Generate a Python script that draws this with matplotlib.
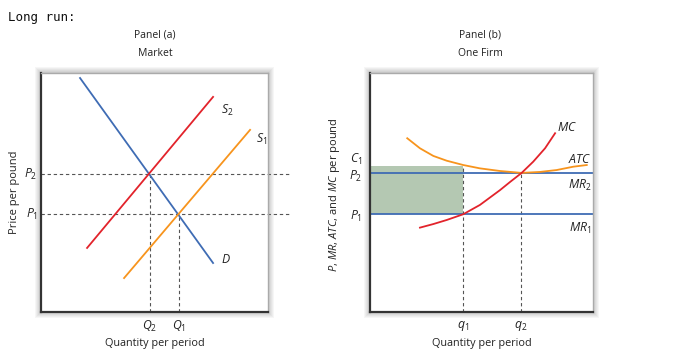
import matplotlib
matplotlib.use("Agg")
import matplotlib.pyplot as plt
from matplotlib.patches import Rectangle

plt.rcParams['font.family'] = ['Open Sans', 'DejaVu Sans']
plt.rcParams['mathtext.fontset'] = 'custom'
plt.rcParams['mathtext.rm'] = 'Open Sans'
plt.rcParams['mathtext.it'] = 'Open Sans:italic'

# 数据 (单位: 坐标轴 0-10)
# Panel (a) 市场
demand_x = [1.72, 7.58]
demand_y = [9.79, 2.05]
s2_x = [2.03, 7.58]
s2_y = [2.68, 9.00]
s1_x = [3.66, 9.21]
s1_y = [1.42, 7.62]
p_market = [5.77, 4.10]        # P2, P1
q_market = [4.80, 6.08]        # Q2, Q1
p_market_labels = ['$P_2$', '$P_1$']
q_market_labels = ['$Q_2$', '$Q_1$']

# Panel (b) 单个企业
mc_x = [2.24, 2.84, 3.44, 4.18, 4.93, 5.83, 6.28, 6.80, 7.32, 7.85, 8.30]
mc_y = [3.53, 3.68, 3.85, 4.09, 4.48, 5.10, 5.44, 5.82, 6.29, 6.85, 7.48]
atc_x = [1.67, 2.24, 2.84, 3.44, 4.18, 4.93, 5.83, 6.80, 7.62, 8.37, 9.12, 9.72]
atc_y = [7.27, 6.85, 6.53, 6.33, 6.15, 6.01, 5.90, 5.82, 5.86, 5.94, 6.08, 6.15]
p_firm = [5.82, 4.10]          # P2, P1
c1 = 6.11
q_firm = [4.17, 6.77]          # q1, q2
q_firm_labels = ['$q_1$', '$q_2$']

BLUE = '#3f6cb4'
RED = '#e2232b'
ORANGE = '#f7941d'
SHADE = '#b4c8b2'
DASH = '#555555'

W, H = 674, 350
fig = plt.figure(figsize=(W / 100, H / 100), dpi=100)


def make_axes(x0, y0, x1, y1):
    # 像素坐标 -> figure 坐标, 带阴影边框
    for k in range(6, 0, -1):
        fig.patches.append(Rectangle(((x0 - k) / W, 1 - (y1 + k) / H),
                                     (x1 - x0 + 2 * k) / W, (y1 - y0 + 2 * k) / H,
                                     transform=fig.transFigure, facecolor='#000000',
                                     alpha=0.035, edgecolor='none', zorder=0))
    ax = fig.add_axes([x0 / W, 1 - y1 / H, (x1 - x0) / W, (y1 - y0) / H], zorder=2)
    ax.set_xlim(0, 10)
    ax.set_ylim(0, 10)
    ax.set_xticks([])
    ax.set_yticks([])
    ax.spines['left'].set_color('#333333')
    ax.spines['bottom'].set_color('#333333')
    ax.spines['left'].set_linewidth(1.6)
    ax.spines['bottom'].set_linewidth(1.6)
    ax.spines['top'].set_color('#aaaaaa')
    ax.spines['right'].set_color('#aaaaaa')
    ax.spines['top'].set_linewidth(1.0)
    ax.spines['right'].set_linewidth(1.0)
    return ax


dash_kw = dict(color=DASH, lw=0.8, ls=(0, (3, 2.5)), zorder=1)
it_kw = dict(fontsize=8.8, color='#222222')

# ---------- Panel (a) ----------
ax1 = make_axes(41, 73, 268, 312)
ax1.plot(demand_x, demand_y, color=BLUE, lw=1.3, zorder=3)
ax1.plot(s2_x, s2_y, color=RED, lw=1.3, zorder=3)
ax1.plot(s1_x, s1_y, color=ORANGE, lw=1.3, zorder=3)
for p, lab in zip(p_market, p_market_labels):
    ax1.plot([0, 10.97], [p, p], clip_on=False, **dash_kw)
    ax1.text(-0.15, p, lab, ha='right', va='center', **it_kw)
for q, p, lab in zip(q_market, p_market, q_market_labels):
    ax1.plot([q, q], [0, p], **dash_kw)
    ax1.text(q, -0.6, lab, ha='center', va='center', **it_kw)
ax1.text(7.95, 8.45, '$S_2$', ha='left', va='center', **it_kw)
ax1.text(9.45, 7.2, '$S_1$', ha='left', va='center', **it_kw)
ax1.text(7.95, 2.2, '$D$', ha='left', va='center', **it_kw)
ax1.text(5.0, -1.32, 'Quantity per period', ha='center', va='center', fontsize=7.8, color='#222222')

fig.text(155 / W, 1 - 35 / H, 'Panel (a)', ha='center', va='center', fontsize=7.5, color='#222222')
fig.text(155 / W, 1 - 53 / H, 'Market', ha='center', va='center', fontsize=7.5, color='#222222')
fig.text(15 / W, 1 - 192 / H, 'Price per pound', rotation=90, ha='center', va='center',
         fontsize=8, color='#222222')

# ---------- Panel (b) ----------
ax2 = make_axes(370, 73, 593, 312)
ax2.add_patch(Rectangle((0, p_firm[1]), q_firm[0], c1 - p_firm[1],
                        facecolor=SHADE, edgecolor='none', zorder=1))
for p in p_firm:
    ax2.axhline(p, color=BLUE, lw=1.3, zorder=2)
ax2.plot(atc_x, atc_y, color=ORANGE, lw=1.3, zorder=3)
ax2.plot(mc_x, mc_y, color=RED, lw=1.3, zorder=4)
ax2.plot([q_firm[0], q_firm[0]], [0, c1], **dash_kw)
ax2.plot([q_firm[1], q_firm[1]], [0, p_firm[0]], **dash_kw)
for q, lab in zip(q_firm, q_firm_labels):
    ax2.text(q, -0.6, lab, ha='center', va='center', **it_kw)
ax2.text(-0.35, 6.38, '$C_1$', ha='right', va='center', **it_kw)
ax2.text(-0.35, 5.68, '$P_2$', ha='right', va='center', **it_kw)
ax2.text(-0.35, 4.0, '$P_1$', ha='right', va='center', **it_kw)
ax2.text(8.85, 7.74, '$MC$', ha='center', va='center', **it_kw)
ax2.text(9.42, 6.36, '$ATC$', ha='center', va='center', **it_kw)
ax2.text(9.42, 5.31, '$MR_2$', ha='center', va='center', **it_kw)
ax2.text(9.42, 3.51, '$MR_1$', ha='center', va='center', **it_kw)
ax2.text(5.0, -1.3, 'Quantity per period', ha='center', va='center', fontsize=7.8, color='#222222')

fig.text(480 / W, 1 - 35 / H, 'Panel (b)', ha='center', va='center', fontsize=7.5, color='#222222')
fig.text(480 / W, 1 - 53 / H, 'One Firm', ha='center', va='center', fontsize=7.5, color='#222222')
fig.text(334 / W, 1 - 195 / H, '$P$, $MR$, $ATC$, and $MC$ per pound', rotation=90,
         ha='center', va='center', fontsize=8, color='#222222')

fig.text(8 / W, 1 - 17 / H, 'Long run:', ha='left', va='center', fontsize=9,
         family='DejaVu Sans Mono', color='#111111')

fig.savefig('out.png', dpi=100)
